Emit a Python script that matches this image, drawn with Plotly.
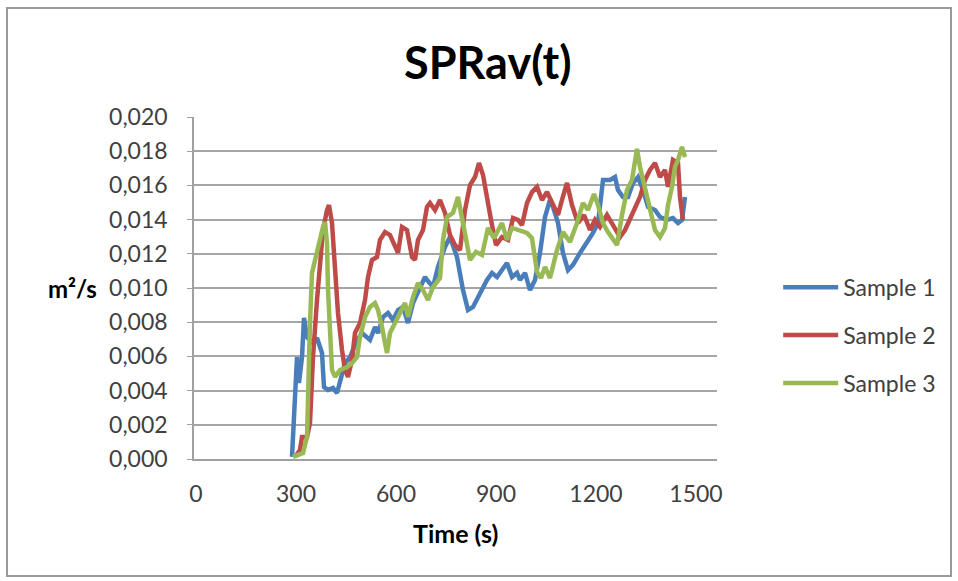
import plotly.graph_objects as go

# ---- data ----
t1 = [288, 297, 303, 309, 318, 324, 333, 351, 363, 378, 384, 396, 411, 423, 432, 447, 462, 483, 498, 522,
      537, 546, 561, 576, 591, 606, 621, 636, 651, 672, 687, 693, 711, 726, 747, 762, 783, 801, 816, 831,
      852, 873, 888, 903, 918, 933, 948, 963, 972, 987, 1002, 1017, 1032, 1047, 1062, 1071, 1086, 1101, 1116, 1131,
      1152, 1173, 1191, 1206, 1221, 1242, 1257, 1266, 1281, 1296, 1311, 1326, 1341, 1356, 1377, 1392, 1413, 1431, 1446, 1458,
      1467]
v1 = [0.12, 4.04, 5.96, 4.44, 5.96, 8.25, 7.13, 6.78, 7.08, 6.20, 4.21, 4.04, 4.15, 3.86, 4.44, 5.61, 5.96, 6.96, 7.37, 6.96,
      7.72, 7.37, 8.30, 8.54, 8.13, 8.71, 8.89, 7.95, 9.12, 10.06, 10.64, 10.47, 10.06, 11.23, 12.40, 12.98, 11.81, 9.88, 8.71, 8.89,
      9.71, 10.47, 10.88, 10.64, 11.05, 11.46, 10.64, 10.88, 10.47, 10.88, 9.88, 10.47, 12.05, 14.15, 15.15, 14.74, 13.80, 12.05, 11.05, 11.35,
      12.05, 12.63, 13.22, 13.80, 16.32, 16.32, 16.49, 15.73, 15.32, 15.32, 16.14, 16.49, 15.73, 14.74, 14.56, 14.15, 13.98, 14.09, 13.80, 13.98,
      15.32]

t2 = [297, 312, 318, 333, 342, 351, 363, 372, 381, 393, 399, 408, 417, 426, 438, 447, 456, 468, 477, 492,
      507, 516, 528, 543, 552, 567, 582, 597, 606, 618, 633, 648, 657, 666, 681, 693, 702, 717, 732, 747,
      762, 777, 792, 807, 822, 837, 849, 861, 873, 885, 900, 918, 936, 951, 966, 978, 993, 1008, 1023, 1038,
      1053, 1071, 1086, 1098, 1113, 1128, 1146, 1164, 1182, 1197, 1212, 1233, 1251, 1272, 1287, 1308, 1332, 1347, 1362, 1377,
      1392, 1407, 1416, 1431, 1446, 1452, 1461]
v2 = [0.12, 0.53, 1.29, 1.29, 2.11, 5.96, 9.30, 11.81, 13.39, 14.56, 14.85, 13.80, 10.88, 8.54, 6.37, 5.20, 4.80, 5.79, 7.37, 7.95,
      9.30, 10.64, 11.64, 11.81, 12.81, 13.27, 13.10, 12.40, 12.05, 13.57, 13.39, 11.81, 11.64, 12.81, 13.39, 14.74, 14.97, 14.56, 15.15, 14.39,
      13.10, 12.51, 12.22, 14.56, 16.02, 16.49, 17.31, 16.61, 15.15, 13.98, 12.51, 12.98, 12.81, 14.09, 13.98, 13.68, 14.97, 15.61, 15.91, 15.15,
      15.61, 14.85, 14.27, 15.15, 16.14, 14.85, 13.80, 14.27, 13.39, 13.98, 13.57, 14.27, 13.68, 12.98, 13.39, 14.27, 15.32, 16.32, 16.90, 17.31,
      16.49, 16.90, 15.91, 17.49, 17.31, 15.32, 13.98]

t3 = [291, 321, 333, 336, 342, 348, 357, 366, 372, 381, 387, 393, 396, 402, 408, 417, 432, 453, 468, 483,
      492, 507, 522, 537, 546, 558, 567, 573, 582, 597, 612, 627, 636, 651, 666, 681, 696, 711, 732, 741,
      753, 771, 786, 798, 813, 822, 840, 858, 876, 894, 918, 933, 948, 972, 993, 1008, 1023, 1035, 1047, 1062,
      1083, 1101, 1122, 1143, 1161, 1176, 1194, 1206, 1221, 1236, 1251, 1263, 1278, 1293, 1308, 1323, 1332, 1347, 1362, 1377,
      1392, 1407, 1416, 1428, 1437, 1446, 1458, 1467]
v3 = [0.12, 0.35, 1.29, 4.04, 7.95, 10.88, 11.64, 12.22, 12.81, 13.57, 13.86, 12.63, 9.88, 6.96, 5.20, 4.80, 5.20, 5.38, 5.61, 5.96,
      7.13, 8.30, 8.89, 9.12, 8.71, 7.72, 6.78, 6.20, 7.37, 7.95, 8.54, 9.12, 8.30, 9.47, 10.29, 9.88, 9.30, 10.06, 10.58, 12.81,
      14.15, 14.39, 15.32, 13.98, 12.51, 11.64, 12.11, 11.93, 13.51, 12.92, 13.80, 12.81, 13.51, 13.39, 13.22, 12.92, 10.94, 10.58, 11.23, 10.58,
      12.22, 13.27, 12.69, 13.80, 14.97, 14.56, 15.50, 14.85, 13.80, 13.27, 12.81, 12.51, 14.27, 15.73, 16.32, 18.13, 17.08, 15.85, 14.44, 13.39,
      12.98, 13.51, 14.85, 15.91, 17.08, 17.49, 18.25, 17.66]

names = ["Sample 1", "Sample 2", "Sample 3"]
colors = ["#4A7EBB", "#BE4B48", "#98B954"]
x_ticks = [0, 300, 600, 900, 1200, 1500]
y_ticks = [0.000, 0.002, 0.004, 0.006, 0.008, 0.010, 0.012, 0.014, 0.016, 0.018, 0.020]

FONT = "Lato"
TXT = "#404040"

fig = go.Figure()
for i, (t, v) in enumerate([(t1, v1), (t2, v2), (t3, v3)]):
    fig.add_trace(go.Scatter(
        x=t, y=[val / 1000 for val in v], mode="lines", name=names[i],
        legendgroup=names[i],
        line=dict(color=colors[i], width=4.5),
    ))

fig.update_layout(
    width=958, height=581,
    paper_bgcolor="white", plot_bgcolor="white",
    margin=dict(l=194, r=241, t=117, b=122),
    separators=",.",
    font=dict(family=FONT, color=TXT, size=23),
    showlegend=True,
    legend=dict(x=1.117, y=0.565, xanchor="left", yanchor="top",
                font=dict(family=FONT, size=23, color=TXT),
                tracegroupgap=15, itemwidth=55, bgcolor="rgba(0,0,0,0)"),
    xaxis=dict(range=[-6, 1563], tickvals=x_ticks, ticktext=[str(x) for x in x_ticks],
               showgrid=False, zeroline=False, showline=True, linecolor="#A0A0A0", linewidth=1.5,
               ticks="", ticklabelstandoff=14, tickfont=dict(family=FONT, size=23, color=TXT)),
    yaxis=dict(range=[0, 0.0200001], tickvals=y_ticks, tickformat=".3f",
               showgrid=True, gridcolor="#A6A6A6", gridwidth=1.5, zeroline=False,
               showline=True, linecolor="#A0A0A0", linewidth=1.5,
               ticks="outside", ticklen=5, tickcolor="#A0A0A0", ticklabelstandoff=15,
               tickfont=dict(family=FONT, size=23, color=TXT)),
)

fig.add_annotation(text="<b>SPRav(t)</b>", xref="paper", yref="paper",
                   x=(488 - 194) / 523, y=(459 - 62) / 342, xanchor="center", yanchor="middle",
                   showarrow=False, font=dict(family=FONT, size=45, color="black"))
fig.add_annotation(text="<b>m²/s</b>", xref="paper", yref="paper",
                   x=(72 - 194) / 523, y=(459 - 288) / 342, xanchor="center", yanchor="middle",
                   showarrow=False, font=dict(family=FONT, size=24, color="black"))
fig.add_annotation(text="<b>Time (s)</b>", xref="paper", yref="paper",
                   x=(455 - 194) / 523, y=(459 - 533) / 342, xanchor="center", yanchor="middle",
                   showarrow=False, font=dict(family=FONT, size=25, color="black"))

# outer chart frame
fig.add_shape(type="rect", xref="paper", yref="paper",
              x0=(7 - 194) / 523, x1=(951 - 194) / 523, y0=(459 - 576) / 342, y1=(459 - 8) / 342,
              line=dict(color="#9A9A9A", width=2), fillcolor="rgba(0,0,0,0)", layer="below")

fig.write_html("out.html", config={"displayModeBar": False},
               post_script="document.body.style.margin='0';")
